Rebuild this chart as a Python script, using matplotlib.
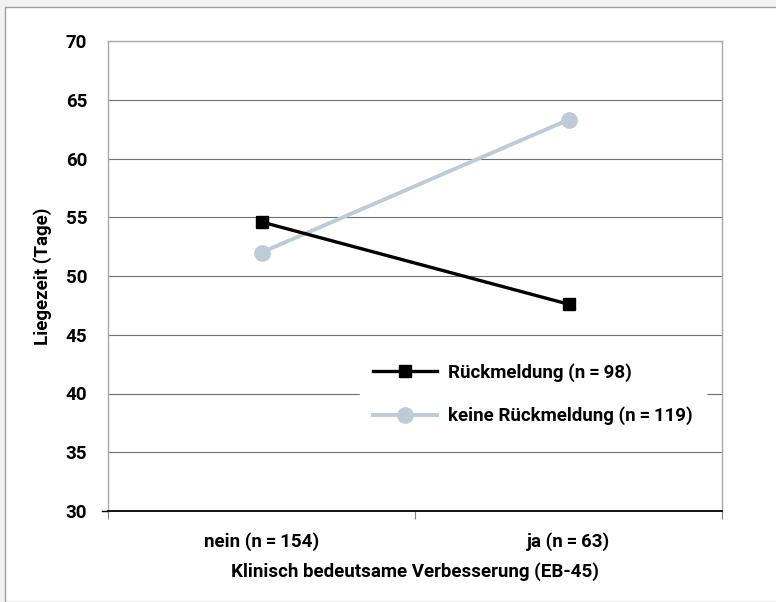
import matplotlib.pyplot as plt
import matplotlib.patches as mpatches

# Data
categories = ['nein (n\u2009=\u2009154)', 'ja (n\u2009=\u200963)']
rueckmeldung = [54.6, 47.6]
keine_rueckmeldung = [52.0, 63.3]
series_labels = ['Rückmeldung (n\u2009=\u200998)', 'keine Rückmeldung (n\u2009=\u2009119)']

plt.rcParams['font.family'] = ['Roboto', 'DejaVu Sans']
plt.rcParams['font.weight'] = 'bold'
fs = 13.5

fig = plt.figure(figsize=(7.76, 6.02), dpi=100)
fig.patch.set_facecolor('#f2f2f2')
# white page with a thin grey frame
fig.patches.append(mpatches.Rectangle((5 / 776, 0), 1, 1 - 7 / 602, transform=fig.transFigure,
                                      facecolor='white', edgecolor='#a0a0a0', lw=1, zorder=-10))

ax = fig.add_axes([108 / 776, 1 - 511 / 602, 614 / 776, 470 / 602])
ax.set_facecolor('white')
ax.set_zorder(1)

xs = [0.5, 1.5]
ax.plot(xs, rueckmeldung, color='black', lw=2.4, marker='s', markersize=9,
        label=series_labels[0], zorder=4)
ax.plot(xs, keine_rueckmeldung, color='#bccbd6', lw=2.8, marker='o', markersize=11,
        label=series_labels[1], zorder=3)

ax.set_xlim(0, 2)
ax.set_ylim(30, 70)
ax.set_yticks(range(30, 71, 5))
ax.grid(axis='y', color='#707070', lw=0.8)
ax.set_axisbelow(True)

ax.set_xticks([0, 1, 2])
ax.set_xticklabels([])
ax.set_xticks(xs, minor=True)
ax.set_xticklabels(categories, minor=True, fontsize=fs, fontweight='bold')
ax.tick_params(axis='x', which='minor', length=0, pad=15)
ax.tick_params(axis='x', which='major', length=6, color='#808080', direction='out')
ax.tick_params(axis='y', length=0, pad=15, labelsize=fs)
for lab in ax.get_yticklabels():
    lab.set_fontweight('bold')
ax.plot([-0.02, 0], [30, 30], color='black', lw=1, clip_on=False)

for side in ['left', 'right', 'top']:
    ax.spines[side].set_color('#a8a8a8')
    ax.spines[side].set_linewidth(1)
ax.spines['bottom'].set_color('black')
ax.spines['bottom'].set_linewidth(1.3)

ax.set_ylabel('Liegezeit (Tage)', fontsize=fs, fontweight='bold', labelpad=10)
ax.set_xlabel('Klinisch bedeutsame Verbesserung (EB-45)', fontsize=fs, fontweight='bold', labelpad=8)

leg = ax.legend(loc='upper left', bbox_to_anchor=(0.395, 0.362), frameon=True, fancybox=False,
                edgecolor='white', framealpha=1, prop={'size': fs, 'weight': 'bold'},
                handlelength=3.4, borderpad=0.7, labelspacing=1.3, handletextpad=0.6)
leg.set_zorder(5)

fig.savefig('out.png', dpi=100, facecolor=fig.get_facecolor())
